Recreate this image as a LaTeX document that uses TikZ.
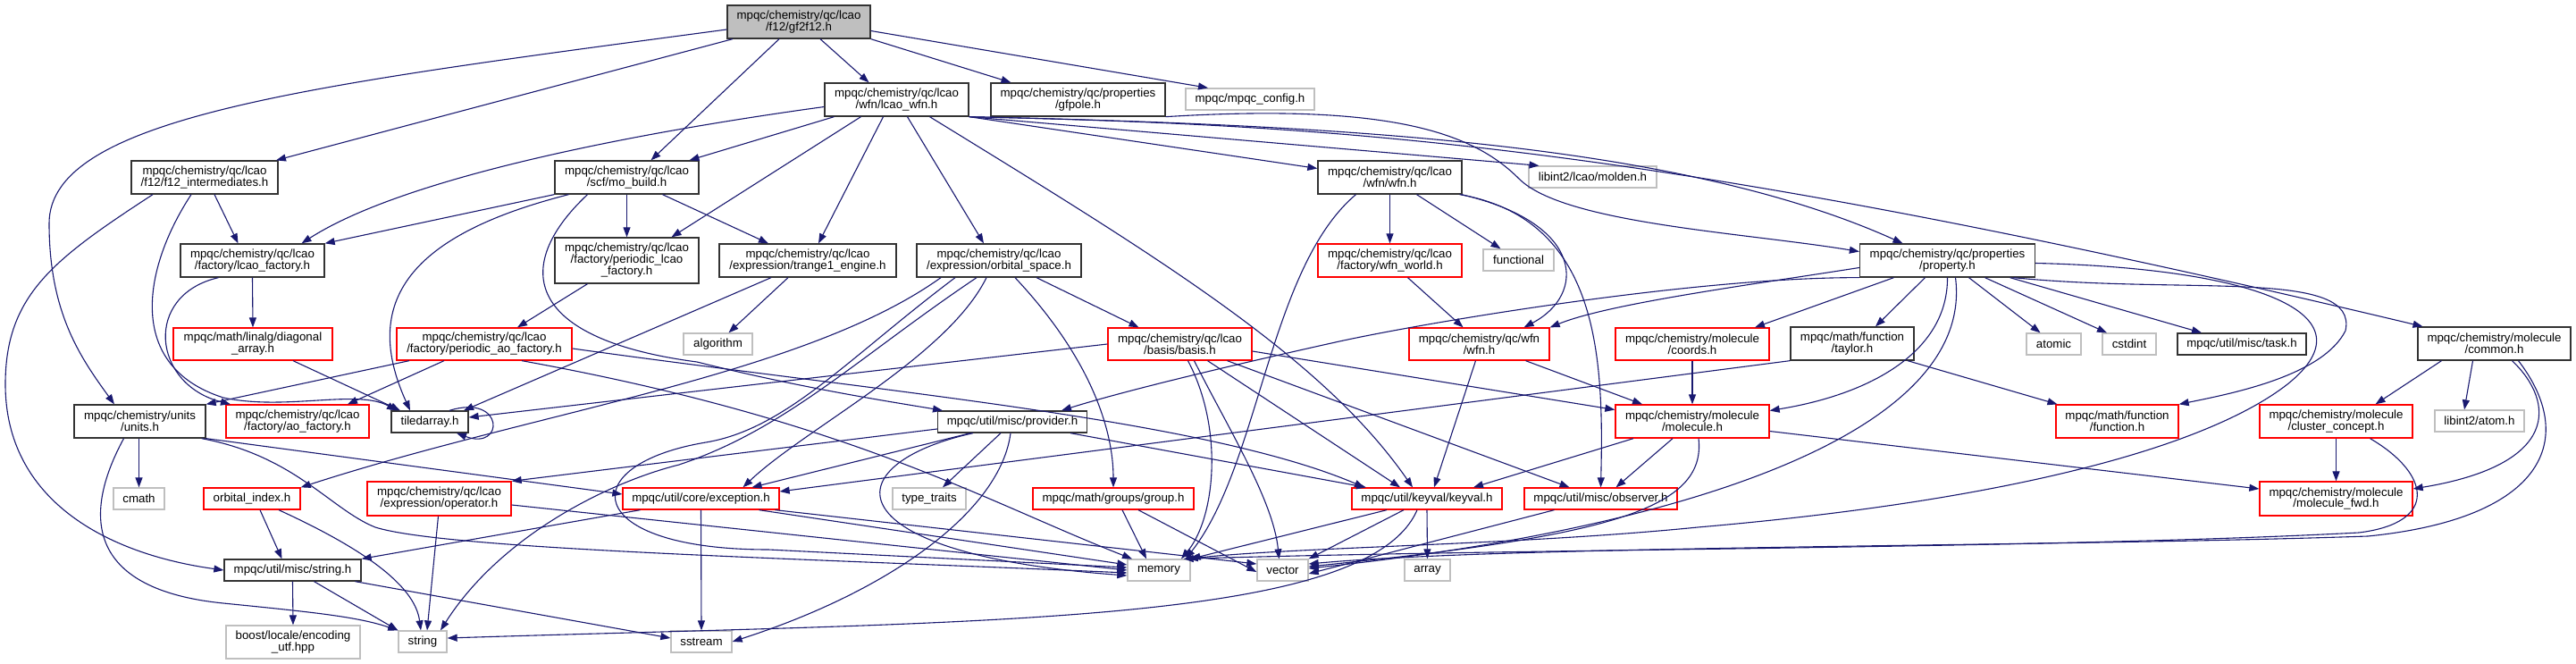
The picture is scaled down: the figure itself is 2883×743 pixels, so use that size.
\documentclass[tikz,border=0pt]{standalone}
\usepackage{fontspec}
\setmainfont{Liberation Sans}
\usetikzlibrary{arrows.meta}
\definecolor{edgec}{HTML}{191970}
\definecolor{gborder}{HTML}{BFBFBF}
\definecolor{rootfill}{HTML}{BFBFBF}
\newcommand{\mkbox}[6]{\node[#1,minimum width=#4pt,minimum height=#5pt] (#2) at (#3) {#6};}
\begin{document}
\begin{tikzpicture}[x=1pt,y=-1pt,
  box/.style={rectangle, inner sep=0pt, align=center, font=\fontsize{13.3}{13}\selectfont, fill=white, line width=1.3pt},
  bk/.style={box, draw=black!80},
  rd/.style={box, draw=red},
  gy/.style={box, draw=gborder},
  rt/.style={box, draw=black!80, fill=rootfill},
  dep/.style={draw=edgec, line width=1.1pt, -{Triangle[length=11pt,width=8pt]}}]
\fill[white] (0,0) rectangle (2883,743);
\useasboundingbox (0,0) rectangle (2883,743);
% nodes
\mkbox{rt}{root}{894,24.5}{160}{37}{mpqc/chemistry/qc/lcao\\/f12/gf2f12.h}
\mkbox{bk}{lcaowfn}{1003.5,111.5}{161}{37}{mpqc/chemistry/qc/lcao\\/wfn/lcao\_wfn.h}
\mkbox{bk}{gfpole}{1206.5,111.5}{195}{37}{mpqc/chemistry/qc/properties\\/gfpole.h}
\mkbox{gy}{config}{1399,111}{144}{24}{mpqc/mpqc\_config.h}
\mkbox{bk}{f12int}{229,198.5}{164}{37}{mpqc/chemistry/qc/lcao\\/f12/f12\_intermediates.h}
\mkbox{bk}{mobuild}{701.5,198.5}{161}{37}{mpqc/chemistry/qc/lcao\\/scf/mo\_build.h}
\mkbox{bk}{wfnwfn}{1555.5,198.5}{161}{37}{mpqc/chemistry/qc/lcao\\/wfn/wfn.h}
\mkbox{gy}{molden}{1782.5,198}{143}{24}{libint2/lcao/molden.h}
\mkbox{bk}{lcaofac}{282.5,291.5}{161}{37}{mpqc/chemistry/qc/lcao\\/factory/lcao\_factory.h}
\mkbox{bk}{plcaofac}{701.5,291.5}{161}{51}{mpqc/chemistry/qc/lcao\\/factory/periodic\_lcao\\\_factory.h}
\mkbox{bk}{trange}{904,291.5}{198}{37}{mpqc/chemistry/qc/lcao\\/expression/trange1\_engine.h}
\mkbox{bk}{orbsp}{1118,291.5}{184}{37}{mpqc/chemistry/qc/lcao\\/expression/orbital\_space.h}
\mkbox{rd}{wfnworld}{1555.5,291.5}{161}{37}{mpqc/chemistry/qc/lcao\\/factory/wfn\_world.h}
\mkbox{gy}{functional}{1699.5,291}{79}{24}{functional}
\mkbox{bk}{property}{2179.5,291.5}{196}{37}{mpqc/chemistry/qc/properties\\/property.h}
\mkbox{rd}{diag}{283,385}{178}{36}{mpqc/math/linalg/diagonal\\\_array.h}
\mkbox{rd}{paofac}{542,385}{196}{36}{mpqc/chemistry/qc/lcao\\/factory/periodic\_ao\_factory.h}
\mkbox{gy}{algorithm}{803.5,385}{77}{24}{algorithm}
\mkbox{rd}{basis}{1320.5,385}{161}{36}{mpqc/chemistry/qc/lcao\\/basis/basis.h}
\mkbox{rd}{qcwfn}{1655.5,385}{157}{36}{mpqc/chemistry/qc/wfn\\/wfn.h}
\mkbox{rd}{coords}{1894,385}{172}{36}{mpqc/chemistry/molecule\\/coords.h}
\mkbox{bk}{taylor}{2073,384.5}{138}{37}{mpqc/math/function\\/taylor.h}
\mkbox{gy}{atomic}{2298.5,385}{61}{24}{atomic}
\mkbox{gy}{cstdint}{2383,385}{60}{24}{cstdint}
\mkbox{bk}{task}{2509,385}{144}{24}{mpqc/util/misc/task.h}
\mkbox{bk}{common}{2791.5,384.5}{171}{37}{mpqc/chemistry/molecule\\/common.h}
\mkbox{bk}{units}{156.5,471.5}{147}{37}{mpqc/chemistry/units\\/units.h}
\mkbox{rd}{aofac}{333,471.5}{160}{37}{mpqc/chemistry/qc/lcao\\/factory/ao\_factory.h}
\mkbox{bk}{tiled}{481,472}{86}{24}{tiledarray.h}
\mkbox{bk}{provider}{1133,472}{167}{24}{mpqc/util/misc/provider.h}
\mkbox{rd}{molecule}{1894,471.5}{172}{37}{mpqc/chemistry/molecule\\/molecule.h}
\mkbox{rd}{func}{2369.5,471.5}{137}{37}{mpqc/math/function\\/function.h}
\mkbox{rd}{cluster}{2614.5,471.5}{171}{37}{mpqc/chemistry/molecule\\/cluster\_concept.h}
\mkbox{gy}{atom}{2775,471}{100}{24}{libint2/atom.h}
\mkbox{gy}{cmath}{155.5,558}{57}{24}{cmath}
\mkbox{rd}{orbidx}{282,558}{108}{24}{orbital\_index.h}
\mkbox{rd}{oper}{491.5,558}{161}{38}{mpqc/chemistry/qc/lcao\\/expression/operator.h}
\mkbox{rd}{exception}{784.5,558}{175}{24}{mpqc/util/core/exception.h}
\mkbox{gy}{typetraits}{1040,558}{82}{24}{type\_traits}
\mkbox{rd}{group}{1246,558}{180}{24}{mpqc/math/groups/group.h}
\mkbox{rd}{keyval}{1597,558}{168}{24}{mpqc/util/keyval/keyval.h}
\mkbox{rd}{observer}{1791.5,558}{171}{24}{mpqc/util/misc/observer.h}
\mkbox{rd}{molfwd}{2614.5,558}{171}{38}{mpqc/chemistry/molecule\\/molecule\_fwd.h}
\mkbox{bk}{stringh}{327.5,638}{153}{24}{mpqc/util/misc/string.h}
\mkbox{gy}{mem}{1297,638}{70}{24}{memory}
\mkbox{gy}{vect}{1435.5,638}{57}{24}{vector}
\mkbox{gy}{array}{1597.5,638}{51}{24}{array}
\mkbox{gy}{boost}{328,718.5}{150}{37}{boost/locale/encoding\\\_utf.hpp}
\mkbox{gy}{strg}{473,718}{54}{24}{string}
\mkbox{gy}{sstream}{785,718}{68}{24}{sstream}
% via points
\coordinate (v1) at (55,250);
\coordinate (v2) at (1700,200);
\coordinate (v3) at (6,430);
\coordinate (v4) at (250,445);
\coordinate (v5) at (780,405);
\coordinate (v6) at (790,495);
\coordinate (v7) at (860,615);
\coordinate (v8) at (760,520);
\coordinate (v9) at (250,675);
\coordinate (v10) at (420,590);
\coordinate (v11) at (1499,382);
\coordinate (v12) at (2625,370);
\coordinate (v13) at (2560,430);
\coordinate (v14) at (1900,590);
\coordinate (v15) at (2650,600);
\coordinate (v16) at (2640,596);
% root
\draw[dep] ([yshift=-8.5pt]root.west) .. controls (350,95) and (55,130) .. (v1) .. controls (55,350) and (90,400) .. ([xshift=-28.5pt]units.north);
\draw[dep] ([xshift=-74pt]root.south) -- ([xshift=80pt]f12int.north);
\draw[dep] ([xshift=-22pt]root.south) -- ([xshift=27pt]mobuild.north);
\draw[dep] ([xshift=24pt]root.south) -- ([xshift=-31pt]lcaowfn.north);
\draw[dep] (root.south east) -- ([xshift=-75pt]gfpole.north);
\draw[dep] ([yshift=-10pt]root.east) -- ([xshift=-47pt]config.north);
% lcao_wfn
\draw[dep] ([yshift=-8pt]lcaowfn.west) .. controls (700,150) and (450,200) .. ([xshift=55pt]lcaofac.north);
\draw[dep] ([xshift=-70pt]lcaowfn.south) -- ([xshift=70pt]mobuild.north);
\draw[dep] ([xshift=-40pt]lcaowfn.south) -- ([xshift=50pt]plcaofac.north);
\draw[dep] ([xshift=-15pt]lcaowfn.south) -- ([xshift=12pt]trange.north);
\draw[dep] ([xshift=12pt]lcaowfn.south) -- ([xshift=-17pt]orbsp.north);
\draw[dep] ([xshift=37pt]lcaowfn.south) .. controls (1300,290) and (1480,400) .. ([xshift=-16pt]keyval.north);
\draw[dep] (lcaowfn.south east) -- ([yshift=10pt]wfnwfn.west);
\draw[dep] (lcaowfn.south east) -- ([xshift=-60pt]molden.north);
\draw[dep] (lcaowfn.south east) .. controls (1500,140) and (1880,160) .. ([xshift=-50pt]property.north);
\draw[dep] (lcaowfn.south east) .. controls (1500,140) and (1850,160) .. ([xshift=-80pt]common.north);
% gfpole
\draw[dep] (gfpole.south east) .. controls (1560,115) and (1650,150) .. (v2) .. controls (1750,250) and (1950,260) .. ([yshift=10pt]property.west);
% f12 intermediates
\draw[dep] ([xshift=11pt]f12int.south) -- ([xshift=-16pt]lcaofac.north);
\draw[dep] ([xshift=-58pt]f12int.south) .. controls (60,290) and (6,330) .. (v3) .. controls (6,560) and (120,620) .. (stringh.west);
\draw[dep] ([xshift=-15pt]f12int.south) .. controls (160,300) and (140,410) .. (v4) .. controls (320,460) and (400,435) .. ([xshift=-37pt]tiled.north);
% mo_build
\draw[dep] (mobuild.south west) -- (lcaofac.north east);
\draw[dep] (mobuild.south) -- (plcaofac.north);
\draw[dep] ([xshift=40pt]mobuild.south) -- ([xshift=-44pt]trange.north);
\draw[dep] ([xshift=-65pt]mobuild.south) .. controls (470,260) and (400,330) .. ([xshift=-22pt]tiled.north);
\draw[dep] ([xshift=-44pt]mobuild.south) .. controls (570,300) and (590,380) .. (v5) .. controls (900,435) and (1000,450) .. ([xshift=-78pt]provider.north);
% lcao_factory
\draw[dep] (lcaofac.south) -- (diag.north);
\draw[dep] ([xshift=-38pt]lcaofac.south) .. controls (160,330) and (170,430) .. ([xshift=-75pt]aofac.north);
% periodic lcao factory, trange, diag, tiledarray
\draw[dep] ([xshift=-44pt]plcaofac.south) -- ([xshift=37pt]paofac.north);
\draw[dep] ([xshift=-22pt]trange.south) -- ([xshift=12pt]algorithm.north);
\draw[dep] ([xshift=-41pt]trange.south) -- ([xshift=38pt]tiled.north);
\draw[dep] ([xshift=45pt]diag.south) -- ([xshift=-33pt]tiled.north);
\draw[dep] ([xshift=22pt]tiled.north) .. controls (565,440) and (565,505) .. ([xshift=30pt]tiled.south);
% periodic ao factory
\draw[dep] ([xshift=-84pt]paofac.south) -- (units.north east);
\draw[dep] ([xshift=-45pt]paofac.south) -- ([xshift=56pt]aofac.north);
\draw[dep] ([yshift=-5pt]paofac.east) .. controls (1000,440) and (1350,470) .. ([xshift=-70pt]keyval.north);
\draw[dep] ([xshift=42pt]paofac.south) .. controls (950,470) and (1100,560) .. ([xshift=-30pt]mem.north);
% basis
\draw[dep] (basis.west) -- ([yshift=5pt]tiled.east);
\draw[dep] ([xshift=9pt]basis.south) .. controls (1370,480) and (1360,580) .. ([xshift=25pt]mem.north);
\draw[dep] ([xshift=16pt]basis.south) .. controls (1375,480) and (1425,560) .. ([xshift=-4pt]vect.north);
\draw[dep] ([xshift=31pt]basis.south) -- ([xshift=-30pt]keyval.north);
\draw[dep] ([xshift=53pt]basis.south) -- ([xshift=-35pt]observer.north);
\draw[dep] ([yshift=-8pt]basis.east) -- ([yshift=13pt]molecule.west);
% orbital space
\draw[dep] ([xshift=-65pt]orbsp.south) .. controls (900,420) and (600,460) .. (orbidx.north east);
\draw[dep] ([xshift=-49pt]orbsp.south) .. controls (950,400) and (880,480) .. (v6) .. controls (640,520) and (650,615) .. (v7) -- ([yshift=3pt]mem.west);
\draw[dep] ([xshift=-25pt]orbsp.south) .. controls (960,400) and (880,480) .. (v8) .. controls (680,540) and (560,600) .. ([xshift=20pt]strg.north);
\draw[dep] ([xshift=-14pt]orbsp.south) .. controls (1060,400) and (900,480) .. ([xshift=47pt]exception.north);
\draw[dep] ([xshift=18pt]orbsp.south) .. controls (1220,400) and (1246,480) .. (group.north);
\draw[dep] ([xshift=42pt]orbsp.south) -- ([xshift=-46pt]basis.north);
% provider
\draw[dep] ([yshift=-8pt]provider.west) -- (oper.north east);
\draw[dep] ([xshift=-47pt]provider.south) -- ([xshift=57pt]exception.north);
\draw[dep] ([xshift=-44pt]provider.south) .. controls (930,520) and (930,620) .. ([yshift=-6pt]mem.west);
\draw[dep] ([xshift=-13pt]provider.south) -- ([xshift=15pt]typetraits.north);
\draw[dep] ([xshift=-2pt]provider.south) .. controls (1120,570) and (1000,660) .. (sstream.east);
\draw[dep] ([xshift=65pt]provider.south) -- ([xshift=-68pt]keyval.north);
% exception
\draw[dep] (exception.south) -- (sstream.north);
\draw[dep] ([xshift=-68pt]exception.south) -- (stringh.north east);
\draw[dep] ([xshift=65pt]exception.south) -- ([yshift=6pt]mem.west);
\draw[dep] ([xshift=83pt]exception.south) -- ([yshift=7pt]vect.west);
% units
\draw[dep] (cmath.north |- units.south) -- (cmath.north);
\draw[dep] ([xshift=-18pt]units.south) .. controls (90,580) and (100,660) .. (v9) .. controls (350,685) and (400,690) .. (strg.north west);
\draw[dep] (units.south east) -- ([yshift=5pt]exception.west);
\draw[dep] ([xshift=-5pt]units.south east) .. controls (330,510) and (370,570) .. (v10) .. controls (500,615) and (900,625) .. ([yshift=-3pt]mem.west);
% orbital index, operator, string.h
\draw[dep] ([xshift=9pt]orbidx.south) -- ([xshift=-12pt]stringh.north);
\draw[dep] ([xshift=30pt]orbidx.south) .. controls (420,620) and (465,660) .. ([xshift=-2pt]strg.north);
\draw[dep] ([xshift=-1pt]oper.south) -- ([xshift=5pt]strg.north);
\draw[dep] ([yshift=-7pt]oper.east) -- ([yshift=0pt]mem.west);
\draw[dep] (stringh.south) -- (boost.north);
\draw[dep] ([xshift=24pt]stringh.south) -- (strg.north west);
\draw[dep] ([xshift=70pt]stringh.south) -- ([yshift=4pt]sstream.west);
% wfn/wfn.h
\draw[dep] ([xshift=-38pt]wfnwfn.south) .. controls (1420,300) and (1410,520) .. ([xshift=30pt]mem.north);
\draw[dep] (wfnwfn.south) -- (wfnworld.north);
\draw[dep] ([xshift=30pt]wfnwfn.south) -- ([xshift=-20pt]functional.north);
\draw[dep] ([xshift=78pt]wfnwfn.south) .. controls (1790,245) and (1795,400) .. (observer.north);
\draw[dep] ([xshift=80pt]wfnwfn.south) .. controls (1775,250) and (1775,330) .. ([xshift=50pt]qcwfn.north);
\draw[dep] ([xshift=20pt]wfnworld.south) -- ([xshift=-18pt]qcwfn.north);
% qc/wfn
\draw[dep] ([xshift=-4pt]qcwfn.south) -- ([xshift=8pt]keyval.north);
\draw[dep] ([xshift=52pt]qcwfn.south) -- ([xshift=-56pt]molecule.north);
\draw[dep] (coords.south) -- (molecule.north);
% molecule
\draw[dep] ([xshift=-66pt]molecule.south) -- ([xshift=52pt]keyval.north);
\draw[dep] ([xshift=-22pt]molecule.south) -- ([xshift=17pt]observer.north);
\draw[dep] ([xshift=7pt]molecule.south) .. controls (1910,570) and (1800,600) .. ([yshift=4pt]vect.east);
\draw[dep] ([yshift=-11pt]molecule.east) -- ([yshift=11pt]molfwd.west);
% keyval, observer, group
\draw[dep] ([xshift=-45pt]keyval.south) -- (mem.north east);
\draw[dep] ([xshift=-26pt]keyval.south) -- (vect.north east);
\draw[dep] ([xshift=-11pt]keyval.south) .. controls (1530,700) and (1100,695) .. ([yshift=4pt]strg.east);
\draw[dep] (keyval.south) -- (array.north);
\draw[dep] ([xshift=-52pt]observer.south) -- ([yshift=-4pt]vect.east);
\draw[dep] ([xshift=10pt]group.south) -- ([xshift=-14pt]mem.north);
\draw[dep] ([xshift=28pt]group.south) -- ([yshift=-2pt]vect.west);
% property
\draw[dep] ([yshift=-8pt]property.west) .. controls (1950,320) and (1800,340) .. (qcwfn.north east);
\draw[dep] (property.south west) .. controls (1900,310) and (1600,360) .. (v11) .. controls (1350,415) and (1250,440) .. ([xshift=55pt]provider.north);
\draw[dep] ([xshift=-60pt]property.south) -- ([xshift=70pt]coords.north);
\draw[dep] ([xshift=-25pt]property.south) -- ([xshift=26pt]taylor.north);
\draw[dep] (property.south) .. controls (2180,390) and (2100,440) .. ([yshift=12pt]molecule.east);
\draw[dep] ([xshift=9pt]property.south) .. controls (2210,480) and (1900,590) .. ([yshift=2pt]vect.east);
\draw[dep] ([xshift=24pt]property.south) -- ([xshift=-15pt]atomic.north);
\draw[dep] ([xshift=42pt]property.south) -- ([xshift=-25pt]cstdint.north);
\draw[dep] ([xshift=70pt]property.south) -- ([xshift=-45pt]task.north);
\draw[dep] ([xshift=74pt]property.south) .. controls (2450,330) and (2640,300) .. (v12) .. controls (2600,420) and (2500,440) .. (func.north east);
\draw[dep] ([yshift=-3pt]property.east) .. controls (2520,300) and (2660,350) .. (v13) .. controls (2470,500) and (2250,560) .. (v14) .. controls (1700,610) and (1450,612) .. ([xshift=-3pt]mem.north east);
% taylor
\draw[dep] (taylor.south west) -- ([yshift=8pt]exception.east);
\draw[dep] ([xshift=62pt]taylor.south) -- ([xshift=-67pt]func.north);
% common
\draw[dep] ([xshift=-59pt]common.south) -- ([xshift=44pt]cluster.north);
\draw[dep] ([xshift=-24pt]common.south) -- ([xshift=-17pt]atom.north);
\draw[dep] ([xshift=20pt]common.south) .. controls (2860,450) and (2865,520) .. ([yshift=11pt]molfwd.east);
\draw[dep] ([xshift=27pt]common.south) .. controls (2885,490) and (2850,580) .. (v15) .. controls (2300,612) and (1700,610) .. ([yshift=7pt]vect.east);
% cluster
\draw[dep] (cluster.south) -- (molfwd.north);
\draw[dep] ([xshift=38pt]cluster.south) .. controls (2720,530) and (2730,585) .. (v16) .. controls (2300,614) and (1700,614) .. ([xshift=-8pt]mem.north east);
\end{tikzpicture}
\end{document}
